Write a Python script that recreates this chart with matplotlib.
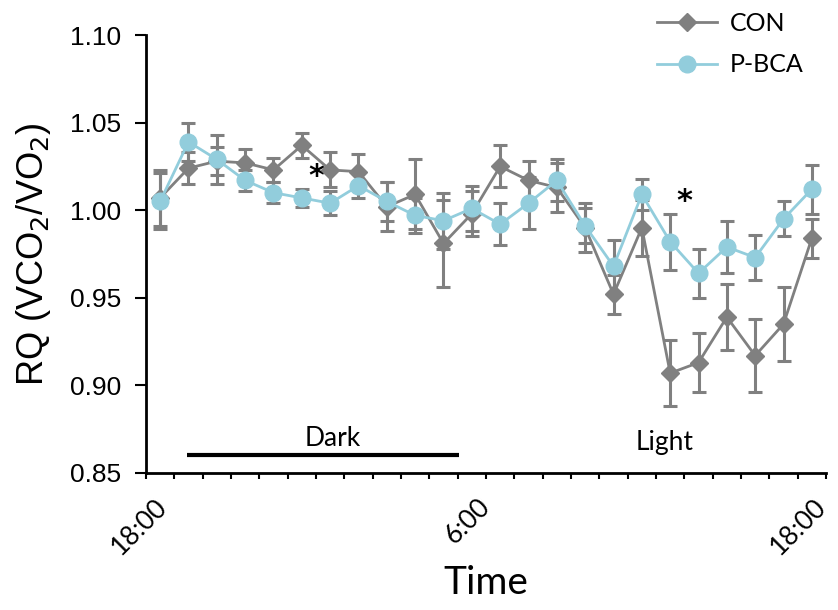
import matplotlib.pyplot as plt
import matplotlib.transforms as mtransforms
import numpy as np

# hours after 18:00, one point per hour (mid-bin)
hours = np.arange(24) + 0.5

con = [1.007, 1.024, 1.028, 1.027, 1.023, 1.037, 1.023, 1.022, 1.002, 1.009, 0.981, 0.998,
       1.025, 1.017, 1.013, 0.990, 0.952, 0.990, 0.907, 0.913, 0.939, 0.917, 0.935, 0.984]
con_err = [0.016, 0.009, 0.008, 0.008, 0.007, 0.007, 0.010, 0.010, 0.014, 0.020, 0.025, 0.013,
           0.012, 0.011, 0.014, 0.014, 0.011, 0.016, 0.019, 0.017, 0.019, 0.021, 0.021, 0.011]

pbca = [1.005, 1.039, 1.029, 1.017, 1.010, 1.007, 1.004, 1.014, 1.005, 0.997, 0.994, 1.001,
        0.992, 1.004, 1.017, 0.991, 0.968, 1.009, 0.982, 0.964, 0.979, 0.973, 0.995, 1.012]
pbca_err = [0.016, 0.011, 0.014, 0.006, 0.006, 0.005, 0.007, 0.007, 0.011, 0.010, 0.016, 0.013,
            0.012, 0.015, 0.012, 0.010, 0.015, 0.009, 0.016, 0.014, 0.015, 0.013, 0.010, 0.014]

# significance marks (hour, y)
stars = [(6.0, 1.019), (19.0, 1.005)]

xtick_pos = [0, 12, 24]
xtick_labels = ['18:00', '6:00', '18:00']

grey = '#808080'
blue = '#92CDDC'
calibri = 'Lato'

fig = plt.figure(figsize=(8.38, 6.10), dpi=100)
ax = fig.add_axes([0.1742, 0.2246, 0.8115, 0.718])

e1 = ax.errorbar(hours, con, yerr=con_err, color=grey, ecolor=grey, elinewidth=2.2, capsize=5,
                 capthick=2.2, lw=2, marker='D', ms=9, mec=grey, mfc=grey, zorder=3)
e2 = ax.errorbar(hours, pbca, yerr=pbca_err, color=blue, ecolor=grey, elinewidth=2.2, capsize=5,
                 capthick=2.2, lw=2, marker='o', ms=12, mec=blue, mfc=blue, zorder=4)

for sx, sy in stars:
    ax.text(sx, sy, '*', fontsize=22, fontweight='bold', ha='center', va='center',
            family='DejaVu Sans')

# dark phase bar
ax.plot([1.45, 11.05], [0.8603, 0.8603], color='black', lw=3, solid_capstyle='butt', clip_on=False)
ax.text(6.6, 0.8625, 'Dark', fontsize=19, family=calibri, ha='center', va='bottom')
ax.text(18.3, 0.8605, 'Light', fontsize=19, family=calibri, ha='center', va='bottom')

ax.set_xlim(0, 24)
ax.set_ylim(0.85, 1.10)
ax.set_yticks([0.85, 0.90, 0.95, 1.00, 1.05, 1.10])
ax.set_yticklabels(['0.85', '0.90', '0.95', '1.00', '1.05', '1.10'], family='Liberation Sans',
                   fontsize=19)
ax.set_xticks(xtick_pos)
ax.set_xticklabels(xtick_labels, family=calibri, fontsize=19, rotation=45,
                   ha='right', va='top', rotation_mode='anchor')
ax.set_xticks(np.arange(0, 25), minor=True)
ax.tick_params(axis='y', direction='out', length=8, width=1.5, pad=10)
ax.tick_params(axis='x', which='both', direction='out', length=4, width=1.5, pad=11)
# excel places the rotated labels a bit unevenly
for lab, dx in zip(ax.get_xticklabels(), [6, -6, -9]):
    lab.set_transform(lab.get_transform() +
                      mtransforms.ScaledTranslation(dx / 72, 0, fig.dpi_scale_trans))

for s in ['top', 'right']:
    ax.spines[s].set_visible(False)
for s in ['left', 'bottom']:
    ax.spines[s].set_linewidth(2)

ax.set_ylabel('RQ (VCO$_2$/VO$_2$)', family='Liberation Sans', fontsize=26, labelpad=12)
ax.set_xlabel('Time', family=calibri, fontsize=28, labelpad=4)

ax.legend([e1[0], e2[0]], ['CON', 'P-BCA'], loc='upper right', bbox_to_anchor=(1.0, 1.105),
          frameon=False, prop={'family': calibri, 'size': 18}, handlelength=2.4,
          handletextpad=0.5, labelspacing=0.75)

fig.savefig('out.png', dpi=100)
